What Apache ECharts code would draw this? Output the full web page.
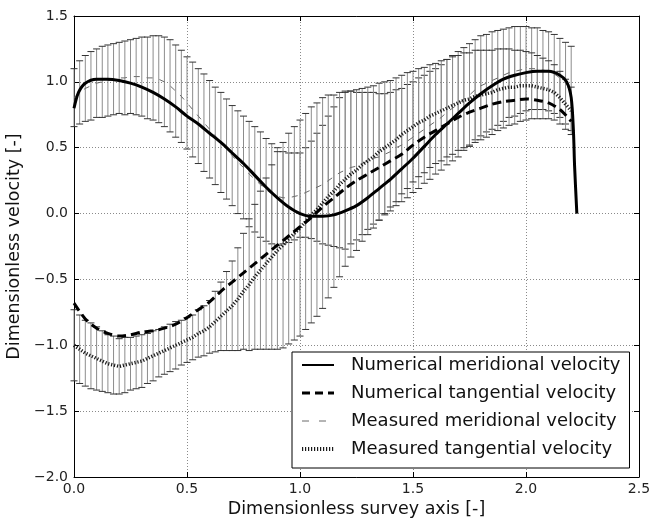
<!DOCTYPE html>
<html>
<head>
<meta charset="utf-8">
<title>Dimensionless velocity</title>
<script src="https://cdn.jsdelivr.net/npm/echarts/dist/echarts.min.js"></script>
<style>
  html, body { margin: 0; padding: 0; background: #fff; }
  #chart { width: 651px; height: 520px; }
</style>
</head>
<body>
<div id="chart"></div>
<script>
// measured profiles: sample positions along the survey axis
const measX = [
  0.000, 0.025, 0.050, 0.075, 0.100, 0.125, 0.150, 0.175,
  0.200, 0.225, 0.250, 0.275, 0.300, 0.325, 0.350, 0.375,
  0.400, 0.425, 0.450, 0.475, 0.500, 0.525, 0.550, 0.575,
  0.600, 0.625, 0.650, 0.675, 0.700, 0.725, 0.750, 0.775,
  0.800, 0.825, 0.850, 0.875, 0.900, 0.925, 0.950, 0.975,
  1.000, 1.025, 1.050, 1.075, 1.100, 1.125, 1.150, 1.175,
  1.200, 1.225, 1.250, 1.275, 1.300, 1.325, 1.350, 1.375,
  1.400, 1.425, 1.450, 1.475, 1.500, 1.525, 1.550, 1.575,
  1.600, 1.625, 1.650, 1.675, 1.700, 1.725, 1.750, 1.775,
  1.800, 1.825, 1.850, 1.875, 1.900, 1.925, 1.950, 1.975,
  2.000, 2.025, 2.050, 2.075, 2.100, 2.125, 2.150, 2.175,
  2.200
]
// measured meridional velocity (mean) and its error
const measMer = [
  0.88, 0.92, 0.95, 0.97, 0.99, 1.00, 1.01, 1.02,
  1.03, 1.03, 1.04, 1.04, 1.04, 1.03, 1.03, 1.02,
  1.00, 0.97, 0.93, 0.89, 0.84, 0.79, 0.74, 0.69,
  0.64, 0.59, 0.54, 0.49, 0.44, 0.39, 0.35, 0.30,
  0.26, 0.22, 0.18, 0.15, 0.13, 0.12, 0.12, 0.13,
  0.14, 0.16, 0.18, 0.20, 0.22, 0.25, 0.28, 0.31,
  0.33, 0.35, 0.36, 0.38, 0.40, 0.42, 0.43, 0.45,
  0.47, 0.50, 0.52, 0.55, 0.58, 0.61, 0.64, 0.67,
  0.70, 0.73, 0.77, 0.80, 0.83, 0.87, 0.90, 0.94,
  0.97, 0.99, 1.01, 1.03, 1.05, 1.07, 1.08, 1.09,
  1.10, 1.10, 1.10, 1.09, 1.08, 1.06, 1.03, 0.99,
  0.95
]
const measMerErr = [
  0.22, 0.24, 0.25, 0.26, 0.26, 0.27, 0.27, 0.27,
  0.27, 0.28, 0.28, 0.29, 0.30, 0.31, 0.32, 0.33,
  0.34, 0.35, 0.35, 0.35, 0.35, 0.36, 0.36, 0.37,
  0.37, 0.37, 0.38, 0.38, 0.38, 0.39, 0.39, 0.40,
  0.40, 0.40, 0.39, 0.38, 0.37, 0.35, 0.34, 0.33,
  0.32, 0.34, 0.37, 0.41, 0.45, 0.49, 0.53, 0.57,
  0.60, 0.58, 0.56, 0.54, 0.52, 0.50, 0.48, 0.46,
  0.45, 0.44, 0.43, 0.43, 0.42, 0.42, 0.41, 0.41,
  0.40, 0.40, 0.40, 0.40, 0.40, 0.39, 0.39, 0.38,
  0.38, 0.37, 0.37, 0.36, 0.35, 0.34, 0.34, 0.33,
  0.32, 0.31, 0.31, 0.30, 0.30, 0.30, 0.30, 0.31,
  0.32
]
// measured tangential velocity (mean) and its error
const measTan = [
  -1.00, -1.03, -1.06, -1.08, -1.10, -1.12, -1.14, -1.15,
  -1.16, -1.15, -1.14, -1.13, -1.12, -1.10, -1.08, -1.06,
  -1.04, -1.02, -1.00, -0.98, -0.96, -0.94, -0.91, -0.89,
  -0.86, -0.82, -0.78, -0.74, -0.70, -0.65, -0.59, -0.54,
  -0.48, -0.43, -0.38, -0.33, -0.28, -0.24, -0.19, -0.15,
  -0.11, -0.06, -0.01, 0.03, 0.08, 0.13, 0.17, 0.22,
  0.26, 0.30, 0.33, 0.37, 0.40, 0.43, 0.47, 0.50,
  0.53, 0.56, 0.60, 0.63, 0.66, 0.69, 0.71, 0.74,
  0.76, 0.78, 0.80, 0.82, 0.84, 0.86, 0.87, 0.89,
  0.90, 0.91, 0.92, 0.94, 0.95, 0.96, 0.96, 0.97,
  0.97, 0.97, 0.96, 0.95, 0.94, 0.92, 0.88, 0.83,
  0.78
]
const measTanErr = [
  0.27, 0.26, 0.25, 0.25, 0.24, 0.23, 0.22, 0.22,
  0.21, 0.21, 0.20, 0.20, 0.20, 0.19, 0.19, 0.18,
  0.18, 0.18, 0.18, 0.17, 0.17, 0.17, 0.18, 0.19,
  0.20, 0.23, 0.26, 0.30, 0.34, 0.39, 0.44, 0.50,
  0.55, 0.60, 0.65, 0.70, 0.75, 0.78, 0.80, 0.81,
  0.82, 0.82, 0.82, 0.81, 0.80, 0.77, 0.73, 0.70,
  0.66, 0.63, 0.61, 0.58, 0.56, 0.54, 0.52, 0.50,
  0.48, 0.47, 0.45, 0.44, 0.42, 0.41, 0.40, 0.39,
  0.38, 0.38, 0.37, 0.37, 0.36, 0.36, 0.35, 0.35,
  0.34, 0.33, 0.32, 0.31, 0.30, 0.29, 0.28, 0.27,
  0.26, 0.25, 0.24, 0.23, 0.22, 0.21, 0.20, 0.19,
  0.18
]

// numerical meridional velocity
const numMerX = [0, 0.02, 0.05, 0.1, 0.15, 0.2, 0.25, 0.3, 0.35, 0.4, 0.45, 0.5, 0.55, 0.6, 0.65,
  0.7, 0.75, 0.8, 0.85, 0.9, 0.95, 1.0, 1.05, 1.1, 1.15, 1.2, 1.25, 1.3, 1.35, 1.4, 1.45, 1.5,
  1.55, 1.6, 1.65, 1.7, 1.75, 1.8, 1.85, 1.9, 1.95, 2.0, 2.05, 2.1, 2.15, 2.18, 2.2, 2.21, 2.215, 2.225]
const numMer = [0.80, 0.92, 0.99, 1.02, 1.02, 1.01, 0.99, 0.96, 0.92, 0.87, 0.81, 0.74, 0.68, 0.61, 0.54,
  0.46, 0.38, 0.29, 0.20, 0.12, 0.05, 0.00, -0.02, -0.02, -0.01, 0.02, 0.06, 0.12, 0.19, 0.26, 0.34, 0.42,
  0.51, 0.60, 0.68, 0.76, 0.84, 0.91, 0.97, 1.02, 1.05, 1.07, 1.08, 1.08, 1.05, 1.00, 0.88, 0.62, 0.36, 0.00]

// numerical tangential velocity
const numTanX = [0, 0.05, 0.1, 0.15, 0.2, 0.25, 0.3, 0.35, 0.4, 0.45, 0.5, 0.55, 0.6, 0.65, 0.7, 0.75,
  0.8, 0.85, 0.9, 0.95, 1.0, 1.05, 1.1, 1.15, 1.2, 1.25, 1.3, 1.35, 1.4, 1.45, 1.5, 1.55, 1.6, 1.65,
  1.7, 1.75, 1.8, 1.85, 1.9, 1.95, 2.0, 2.05, 2.1, 2.15, 2.18, 2.2]
const numTan = [-0.68, -0.80, -0.87, -0.91, -0.93, -0.92, -0.90, -0.89, -0.87, -0.84, -0.79, -0.73, -0.67,
  -0.59, -0.52, -0.45, -0.38, -0.31, -0.24, -0.17, -0.10, -0.03, 0.05, 0.12, 0.19, 0.25, 0.30, 0.35, 0.40,
  0.45, 0.52, 0.58, 0.63, 0.68, 0.73, 0.77, 0.80, 0.83, 0.85, 0.86, 0.87, 0.86, 0.84, 0.79, 0.74, 0.70]

const FONT = 'DejaVu Sans'
const minus = v => v.toFixed(1).replace('-', '\u2212')

function pairs(xs, ys) {
  return xs.map((x, i) => [x, ys[i]])
}
function bars(xs, mean, err) {
  return xs.map((x, i) => [x, mean[i] - err[i], mean[i] + err[i]])
}

// vertical error bar with caps
function errorBar(params, api) {
  const x = api.value(0)
  const top = api.coord([x, api.value(2)])
  const bot = api.coord([x, api.value(1)])
  const w = 3.5
  return {
    type: 'group',
    children: [
      { type: 'line', shape: { x1: top[0], y1: top[1], x2: bot[0], y2: bot[1] },
        style: { stroke: '#8c8c8c', lineWidth: 1 } },
      { type: 'line', shape: { x1: top[0] - w, y1: top[1], x2: top[0] + w, y2: top[1] },
        style: { stroke: '#333', lineWidth: 1 } },
      { type: 'line', shape: { x1: bot[0] - w, y1: bot[1], x2: bot[0] + w, y2: bot[1] },
        style: { stroke: '#333', lineWidth: 1 } }
    ]
  }
}

const frameAxis = {
  axisLine: { show: true, onZero: false, lineStyle: { color: '#000', width: 1 } },
  axisTick: { show: true, inside: true, length: 5, lineStyle: { color: '#000' } },
  splitLine: { show: false },
  axisLabel: { show: false }
}

const chart = echarts.init(document.getElementById('chart'))
chart.setOption({
  animation: false,
  backgroundColor: '#fff',
  grid: { left: 74, right: 12, top: 16, bottom: 43, containLabel: false, outerBoundsMode: 'none' },
  legend: {
    data: [
      { name: 'Numerical meridional velocity' },
      { name: 'Numerical tangential velocity', lineStyle: { type: [8, 5], width: 3 } },
      { name: 'Measured meridional velocity', lineStyle: { type: [7, 10], width: 1 } },
      { name: 'Measured tangential velocity', lineStyle: { type: [1.2, 1.8], width: 4 } }
    ],
    orient: 'vertical',
    left: 292,
    top: 352,
    padding: [4, 9, 10, 8],
    itemGap: 10,
    itemWidth: 32,
    itemHeight: 18,
    backgroundColor: '#fff',
    borderColor: '#000',
    borderWidth: 1,
    borderRadius: 0,
    // line samples only, no marker in the middle
    itemStyle: { opacity: 0 },
    textStyle: { fontFamily: FONT, fontSize: 18, color: '#111', padding: [0, 0, 0, 12] }
  },
  xAxis: [{
    type: 'value',
    min: 0, max: 2.5, interval: 0.5,
    name: 'Dimensionless survey axis [-]',
    nameLocation: 'middle',
    nameGap: 22,
    nameTextStyle: { fontFamily: FONT, fontSize: 17.5, color: '#111' },
    axisLine: { onZero: false, lineStyle: { color: '#000', width: 1 } },
    axisTick: { inside: true, length: 5, lineStyle: { color: '#000' } },
    axisLabel: { fontFamily: FONT, fontSize: 14, color: '#222', margin: 5, formatter: minus,
      showMinLabel: true, showMaxLabel: true },
    splitLine: { show: true, lineStyle: { color: '#8a8a8a', type: [1, 2], width: 1 } }
  }, Object.assign({ type: 'value', position: 'top', min: 0, max: 2.5, interval: 0.5 }, frameAxis)],
  yAxis: [{
    type: 'value',
    min: -2, max: 1.5, interval: 0.5,
    name: 'Dimensionless velocity [-]',
    nameLocation: 'middle',
    nameGap: 51,
    nameTextStyle: { fontFamily: FONT, fontSize: 17.5, color: '#111' },
    axisLine: { show: true, onZero: false, lineStyle: { color: '#000', width: 1 } },
    axisTick: { show: true, inside: true, length: 5, lineStyle: { color: '#000' } },
    axisLabel: { fontFamily: FONT, fontSize: 14, color: '#222', margin: 6, formatter: minus,
      showMinLabel: true, showMaxLabel: true },
    splitLine: { show: true, lineStyle: { color: '#8a8a8a', type: [1, 2], width: 1 } }
  }, Object.assign({ type: 'value', position: 'right', min: -2, max: 1.5, interval: 0.5 }, frameAxis)],
  series: [
    {
      type: 'custom',
      name: 'merErr',
      renderItem: errorBar,
      encode: { x: 0, y: [1, 2] },
      data: bars(measX, measMer, measMerErr),
      z: 1
    },
    {
      type: 'custom',
      name: 'tanErr',
      renderItem: errorBar,
      encode: { x: 0, y: [1, 2] },
      data: bars(measX, measTan, measTanErr),
      z: 1
    },
    {
      name: 'Measured meridional velocity',
      type: 'line',
      symbol: 'none',
      data: pairs(measX, measMer),
      color: '#6a6a6a',
      lineStyle: { color: '#6a6a6a', width: 1, type: [6, 7] },
      z: 2
    },
    {
      name: 'Measured tangential velocity',
      type: 'line',
      symbol: 'none',
      data: pairs(measX, measTan),
      color: '#1a1a1a',
      lineStyle: { color: '#1a1a1a', width: 3.5, type: [1.2, 1.8] },
      z: 2
    },
    {
      name: 'Numerical meridional velocity',
      type: 'line',
      symbol: 'none',
      smooth: 0.3,
      data: pairs(numMerX, numMer),
      color: '#000',
      lineStyle: { color: '#000', width: 3 },
      z: 3
    },
    {
      name: 'Numerical tangential velocity',
      type: 'line',
      symbol: 'none',
      smooth: 0.3,
      data: pairs(numTanX, numTan),
      color: '#000',
      lineStyle: { color: '#000', width: 3, type: [9, 5] },
      z: 3
    }
  ]
})
</script>
</body>
</html>
